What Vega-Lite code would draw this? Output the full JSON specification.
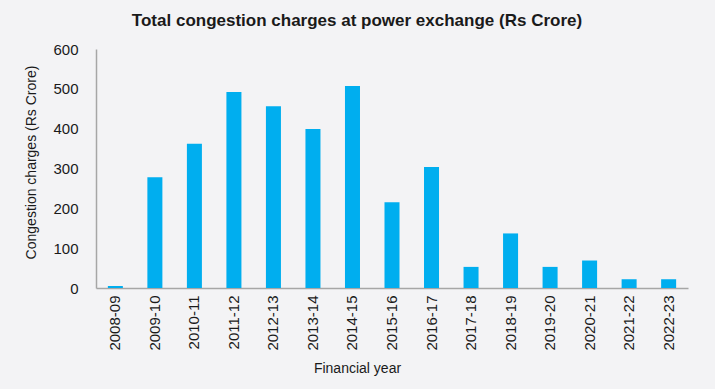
{
  "$schema": "https://vega.github.io/schema/vega-lite/v6.json",
  "autosize": "none",
  "width": 592,
  "height": 239,
  "padding": {"left": 96, "top": 49, "right": 27, "bottom": 101},
  "background": "#f3f3f5",
  "title": {
    "text": "Total congestion charges at power exchange (Rs Crore)",
    "font": "Liberation Sans",
    "fontSize": 17,
    "fontWeight": "bold",
    "color": "#1a1a1a",
    "anchor": "middle",
    "dx": -35,
    "offset": 12
  },
  "data": {
    "values": [
      {"year": "2008-09", "value": 5},
      {"year": "2009-10", "value": 278},
      {"year": "2010-11", "value": 362},
      {"year": "2011-12", "value": 492},
      {"year": "2012-13", "value": 456},
      {"year": "2013-14", "value": 399},
      {"year": "2014-15", "value": 507},
      {"year": "2015-16", "value": 215},
      {"year": "2016-17", "value": 304},
      {"year": "2017-18", "value": 53},
      {"year": "2018-19", "value": 137},
      {"year": "2019-20", "value": 53},
      {"year": "2020-21", "value": 69},
      {"year": "2021-22", "value": 22},
      {"year": "2022-23", "value": 22}
    ]
  },
  "mark": {"type": "bar", "color": "#00aeef"},
  "encoding": {
    "x": {
      "field": "year",
      "type": "nominal",
      "sort": null,
      "scale": {"paddingInner": 0.62, "paddingOuter": 0.3},
      "axis": {
        "title": "Financial year",
        "titleFont": "Liberation Sans",
        "titleFontSize": 14,
        "titleFontWeight": "normal",
        "titleColor": "#1a1a1a",
        "titleX": 261,
        "titleY": 73,
        "titleBaseline": "top",
        "labelAngle": -90,
        "labelAlign": "right",
        "labelBaseline": "middle",
        "labelFont": "Liberation Sans",
        "labelFontSize": 15,
        "labelColor": "#1a1a1a",
        "labelPadding": 7,
        "ticks": false,
        "domainColor": "#a6a6a6",
        "domainWidth": 1.5,
        "grid": false
      }
    },
    "y": {
      "field": "value",
      "type": "quantitative",
      "scale": {"domain": [0, 600], "nice": false},
      "axis": {
        "title": "Congestion charges (Rs Crore)",
        "titleFont": "Liberation Sans",
        "titleFontSize": 14,
        "titleFontWeight": "normal",
        "titleColor": "#1a1a1a",
        "titlePadding": 14,
        "titleY": 113,
        "values": [0, 100, 200, 300, 400, 500, 600],
        "labelFont": "Liberation Sans",
        "labelFontSize": 15,
        "labelColor": "#1a1a1a",
        "labelPadding": 18,
        "ticks": false,
        "domainColor": "#a6a6a6",
        "domainWidth": 1.5,
        "grid": false
      }
    }
  },
  "config": {"view": {"stroke": null}}
}
